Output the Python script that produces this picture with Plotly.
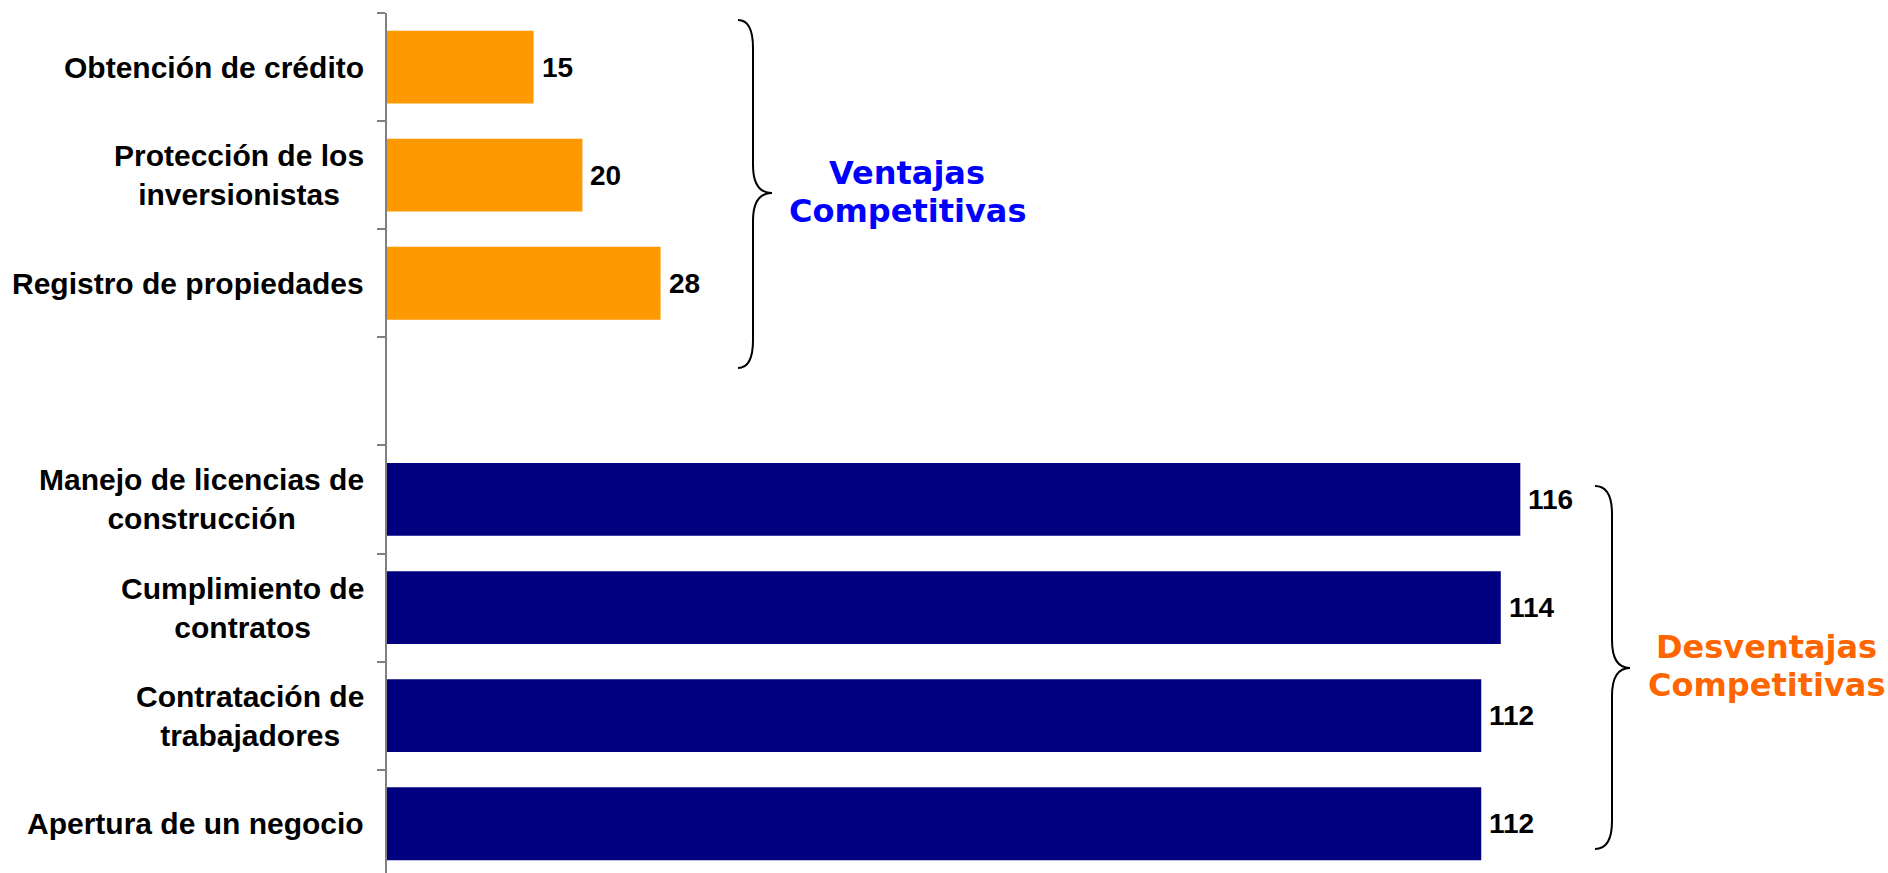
import plotly.graph_objects as go

# ---- data ----
ventajas_cats = ["Obtención de crédito", "Protección de los inversionistas", "Registro de propiedades"]
ventajas_labels = ["Obtención de crédito", "Protección de los<br>inversionistas", "Registro de propiedades"]
ventajas_vals = [15, 20, 28]

desventajas_cats = ["Manejo de licencias de construcción", "Cumplimiento de contratos",
                    "Contratación de trabajadores", "Apertura de un negocio"]
desventajas_labels = ["Manejo de licencias de<br>construcción", "Cumplimiento de<br>contratos",
                      "Contratación de<br>trabajadores", "Apertura de un negocio"]
desventajas_vals = [116, 114, 112, 112]

gap_cat = " "
category_order = ventajas_cats + [gap_cat] + desventajas_cats

group_ventajas = ["Ventajas", "Competitivas"]
group_desventajas = ["Desventajas", "Competitivas"]

# ---- layout geometry ----
FW, FH = 1888, 873
L, T = 387, 13
W, H = FW - L, FH - T
SLOT = 108.1
PX_PER_UNIT = 9.77

def xp(px):
    return (px - L) / W

def yp(py):
    return 1 - (py - T) / H

LABEL_FONT = dict(family="Liberation Sans", size=30, color="black", weight="bold")
VALUE_FONT = dict(family="Liberation Sans", size=28, color="black", weight="bold")
GROUP_FONT = "DejaVu Sans"

fig = go.Figure()
fig.add_trace(go.Bar(y=ventajas_cats, x=ventajas_vals, orientation="h",
                     marker=dict(color="#FF9900", line=dict(width=0)), showlegend=False))
fig.add_trace(go.Bar(y=desventajas_cats, x=desventajas_vals, orientation="h",
                     marker=dict(color="#000080", line=dict(width=0)), showlegend=False))

annotations = []
# category labels
for cat, lab in zip(ventajas_cats + desventajas_cats, ventajas_labels + desventajas_labels):
    annotations.append(dict(xref="paper", x=0, yref="y", y=cat, text=lab, showarrow=False,
                            xanchor="right", yanchor="middle", align="center", xshift=-21,
                            font=LABEL_FONT))
# value labels
for cat, v in zip(ventajas_cats + desventajas_cats, ventajas_vals + desventajas_vals):
    annotations.append(dict(xref="x", x=v, yref="y", y=cat, text=str(v), showarrow=False,
                            xanchor="left", yanchor="middle", xshift=6, font=VALUE_FONT))

# group labels
def group_label(lines, cx, cys, color):
    for line, cy in zip(lines, cys):
        annotations.append(dict(xref="paper", x=xp(cx), yref="paper", y=yp(cy), text=line,
                                showarrow=False, xanchor="center", yanchor="middle",
                                font=dict(family=GROUP_FONT, size=32, color=color, weight="bold")))

group_label(group_ventajas, 907, [173, 211], "#0000FF")
group_label(group_desventajas, 1766, [647, 685], "#FF6600")

# braces
def brace(x0, xs, xt, ytop, ymid, ybot, r=28):
    pts = [
        f"M {xp(x0)},{yp(ytop)}",
        f"Q {xp(xs)},{yp(ytop)} {xp(xs)},{yp(ytop + r)}",
        f"L {xp(xs)},{yp(ymid - r)}",
        f"Q {xp(xs)},{yp(ymid)} {xp(xt)},{yp(ymid)}",
        f"Q {xp(xs)},{yp(ymid)} {xp(xs)},{yp(ymid + r)}",
        f"L {xp(xs)},{yp(ybot - r)}",
        f"Q {xp(xs)},{yp(ybot)} {xp(x0)},{yp(ybot)}",
    ]
    return dict(type="path", xref="paper", yref="paper", path=" ".join(pts),
                line=dict(color="black", width=2))

shapes = [brace(738, 753, 772, 20, 193, 368), brace(1595, 1612, 1630, 486, 668, 849)]

fig.update_layout(
    width=FW, height=FH,
    margin=dict(l=L, r=0, t=T, b=0, pad=0),
    paper_bgcolor="white", plot_bgcolor="white",
    barmode="relative", bargap=0.327,
    annotations=annotations, shapes=shapes,
    xaxis=dict(range=[0, W / PX_PER_UNIT], visible=False, fixedrange=True),
    yaxis=dict(type="category", categoryorder="array", categoryarray=category_order,
               range=[-0.5 + H / SLOT, -0.5], showticklabels=False,
               tickson="boundaries", ticks="outside", ticklen=8, tickwidth=1.5,
               tickcolor="#808080", showline=True, linecolor="#808080", linewidth=1.5,
               showgrid=False, zeroline=False, fixedrange=True),
)

fig.write_html("out.html", config={"displayModeBar": False},
               post_script="document.body.style.margin='0';document.body.style.overflow='hidden';")
